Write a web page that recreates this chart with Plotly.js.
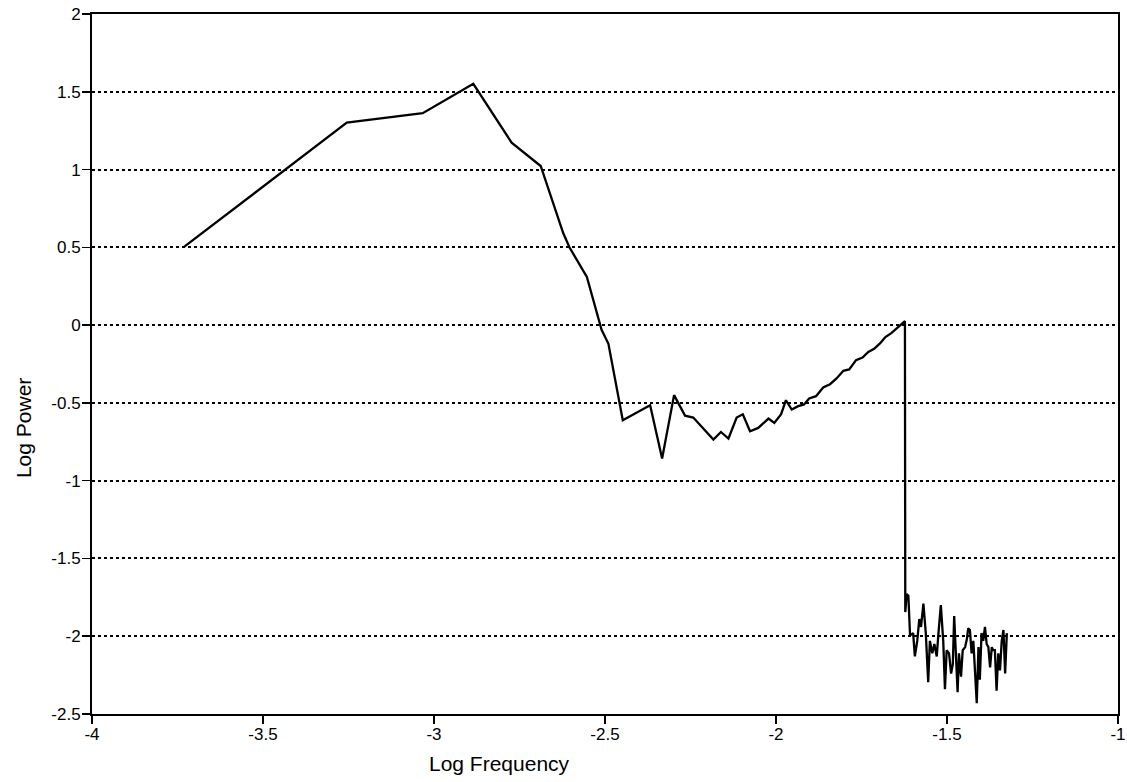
<!DOCTYPE html>
<html>
<head>
<meta charset="utf-8">
<script src="https://cdn.plot.ly/plotly-3.0.1.min.js"></script>
<style>html,body{margin:0;padding:0;background:#fff;overflow:hidden;}#chart{width:1127px;height:782px;}</style>
</head>
<body>
<div id="chart"></div>
<script>
const logFrequency = [
  -3.730, -3.255, -3.033, -2.885, -2.773, -2.688, -2.622, -2.604, -2.553, -2.510,
  -2.490, -2.448, -2.368, -2.333, -2.298, -2.266, -2.242, -2.183, -2.161, -2.139,
  -2.115, -2.097, -2.076, -2.052, -2.022, -2.005, -1.985, -1.971, -1.954, -1.935,
  -1.918, -1.903, -1.883, -1.862, -1.842, -1.823, -1.803, -1.786, -1.766, -1.747,
  -1.730, -1.713, -1.696, -1.681, -1.662, -1.642, -1.623,
  -1.622, -1.618, -1.613, -1.608, -1.599, -1.594, -1.587, -1.581, -1.576, -1.569,
  -1.562, -1.555, -1.550, -1.543, -1.537, -1.530, -1.525, -1.518, -1.511, -1.506,
  -1.501, -1.494, -1.488, -1.483, -1.479, -1.474, -1.469, -1.465, -1.459, -1.454,
  -1.447, -1.442, -1.438, -1.433, -1.428, -1.423, -1.418, -1.413, -1.408, -1.404,
  -1.399, -1.394, -1.389, -1.384, -1.379, -1.374, -1.369, -1.365, -1.360, -1.355,
  -1.350, -1.345, -1.340, -1.335, -1.330, -1.325
];
const logPower = [
  0.504, 1.302, 1.362, 1.551, 1.173, 1.023, 0.590, 0.500, 0.310, -0.030,
  -0.120, -0.611, -0.515, -0.858, -0.450, -0.582, -0.594, -0.736, -0.687, -0.729,
  -0.594, -0.573, -0.682, -0.661, -0.601, -0.629, -0.573, -0.483, -0.543, -0.521,
  -0.510, -0.472, -0.457, -0.401, -0.380, -0.343, -0.294, -0.285, -0.225, -0.208,
  -0.172, -0.152, -0.118, -0.079, -0.050, -0.011, 0.025,
  -1.845, -1.730, -1.740, -1.995, -1.980, -2.130, -2.030, -1.890, -1.940, -1.790,
  -1.980, -2.295, -2.030, -2.110, -2.050, -2.130, -1.980, -1.800, -2.030, -2.340,
  -2.090, -2.110, -2.240, -2.180, -1.870, -2.130, -2.360, -2.110, -2.260, -2.090,
  -2.070, -2.020, -1.950, -1.960, -2.110, -2.030, -2.200, -2.430, -2.070, -2.280,
  -1.980, -2.030, -1.940, -2.050, -2.070, -2.200, -2.070, -2.090, -2.090, -2.350,
  -2.110, -2.220, -2.030, -1.960, -2.240, -1.980
];
const xTickVals = [-4, -3.5, -3, -2.5, -2, -1.5, -1];
const xTickText = ['-4', '-3.5', '-3', '-2.5', '-2', '-1.5', '-1'];
const yTickVals = [2, 1.5, 1, 0.5, 0, -0.5, -1, -1.5, -2, -2.5];
const yTickText = ['2', '1.5', '1', '0.5', '0', '-0.5', '-1', '-1.5', '-2', '-2.5'];

const fontFam = '"Liberation Sans", Arial, sans-serif';

const trace = {
  x: logFrequency, y: logPower, type: 'scatter', mode: 'lines',
  line: {color: '#000', width: 2.3}, hoverinfo: 'skip'
};

const layout = {
  width: 1127, height: 782,
  margin: {l: 92, r: 9, t: 14, b: 68},
  paper_bgcolor: '#fff', plot_bgcolor: '#fff',
  showlegend: false,
  font: {family: fontFam, color: '#000', size: 17},
  xaxis: {
    range: [-4, -1], tickvals: xTickVals, ticktext: xTickText,
    showgrid: false, zeroline: false,
    showline: true, linecolor: '#000', linewidth: 2, mirror: true,
    ticks: 'outside', ticklen: 8, tickwidth: 1.5, tickcolor: '#000',
    ticklabelstandoff: -4,
    tickfont: {family: fontFam, size: 17, color: '#000'}
  },
  yaxis: {
    range: [-2.5, 2], tickvals: yTickVals, ticktext: yTickText,
    showgrid: true, gridcolor: '#000', gridwidth: 2, griddash: '3px,3px',
    zeroline: false,
    showline: true, linecolor: '#000', linewidth: 2, mirror: true,
    ticks: 'outside', ticklen: 8, tickwidth: 1.5, tickcolor: '#000',
    ticklabelstandoff: -2,
    tickfont: {family: fontFam, size: 17, color: '#000'}
  },
  annotations: [
    {text: 'Log Frequency', xref: 'paper', yref: 'paper', x: (499 - 92) / 1026, y: -0.052,
     xanchor: 'center', yanchor: 'top', showarrow: false,
     font: {family: fontFam, size: 21, color: '#000'}},
    {text: 'Log Power', xref: 'paper', yref: 'paper', x: -0.054, y: (714 - 428) / 700,
     xanchor: 'right', yanchor: 'middle', textangle: -90, showarrow: false,
     font: {family: fontFam, size: 21, color: '#000'}}
  ]
};

Plotly.newPlot('chart', [trace], layout, {displayModeBar: false, staticPlot: true});
</script>
</body>
</html>
